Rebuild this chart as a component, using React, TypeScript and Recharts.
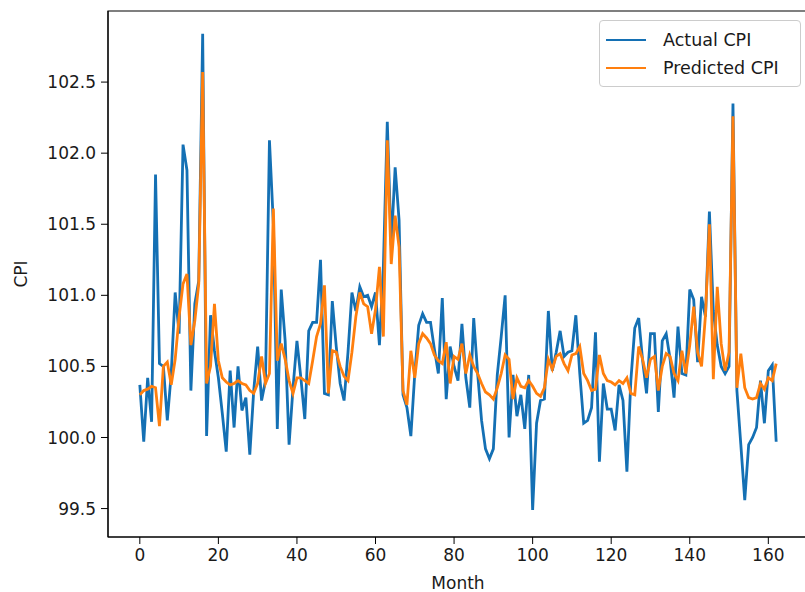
import { LineChart, Line, XAxis, YAxis, ReferenceArea, Label } from 'recharts'

// monthly CPI, actual vs model prediction
const actual = [
  100.37, 99.97, 100.42, 100.11, 101.85, 100.52, 100.5, 100.12, 100.45, 101.02,
  100.73, 102.06, 101.88, 100.33, 100.94, 101.1, 102.84, 100.01, 100.86, 100.61,
  100.42, 100.17, 99.9, 100.47, 100.07, 100.5, 100.19, 100.28, 99.88, 100.33,
  100.64, 100.26, 100.4, 102.09, 101.5, 100.06, 101.04, 100.68, 99.95, 100.35,
  100.68, 100.42, 100.13, 100.75, 100.81, 100.81, 101.25, 100.31, 100.3, 100.96,
  100.64, 100.38, 100.26, 100.6, 101.02, 100.89, 101.06, 100.99, 101.0, 100.92,
  101.02, 100.65, 101.2, 102.22, 101.35, 101.9, 101.53, 100.3, 100.21, 100.01,
  100.45, 100.79, 100.87, 100.81, 100.81, 100.62, 100.45, 100.98, 100.27, 100.64,
  100.5, 100.4, 100.8, 100.42, 100.21, 100.84, 100.45, 100.12, 99.92, 99.85,
  99.92, 100.44, 100.71, 101.0, 100.0, 100.44, 100.15, 100.3, 100.06, 100.44,
  99.49, 100.1, 100.26, 100.27, 100.89, 100.47, 100.6, 100.75, 100.57, 100.6,
  100.61, 100.86, 100.45, 100.1, 100.12, 100.21, 100.74, 99.83, 100.38, 100.2,
  100.2, 100.05, 100.37, 100.26, 99.76, 100.4, 100.77, 100.84, 100.54, 100.31,
  100.73, 100.73, 100.18, 100.68, 100.73, 100.55, 100.28, 100.78, 100.45, 100.44,
  101.04, 100.97, 100.53, 100.99, 100.85, 101.59, 100.89, 100.65, 100.5, 100.45,
  100.5, 102.35, 100.33, 99.95, 99.56, 99.95, 100.0, 100.07, 100.4, 100.1,
  100.47, 100.51, 99.97,
]

const predicted = [
  100.3, 100.33, 100.34, 100.36, 100.35, 100.08, 100.5, 100.53, 100.37, 100.55,
  100.85, 101.08, 101.15, 100.65, 100.82, 101.08, 102.57, 100.38, 100.5, 100.94,
  100.54, 100.42, 100.39, 100.37, 100.38, 100.4, 100.38, 100.37, 100.33, 100.31,
  100.38, 100.57, 100.38, 100.45, 101.61, 100.54, 100.66, 100.55, 100.4, 100.31,
  100.42, 100.42, 100.4, 100.38, 100.54, 100.71, 100.8, 101.07, 100.31, 100.61,
  100.6, 100.5, 100.43, 100.4, 100.6, 100.85, 101.02, 100.94, 100.92, 100.73,
  100.9, 101.2, 100.71, 102.09, 101.22, 101.56, 101.34, 100.33, 100.23, 100.61,
  100.42, 100.66, 100.73, 100.7, 100.66, 100.58, 100.54, 100.52, 100.67, 100.38,
  100.57, 100.55, 100.66, 100.45, 100.58, 100.5, 100.45, 100.38, 100.32, 100.3,
  100.27, 100.35, 100.45, 100.58, 100.55, 100.27, 100.42, 100.36, 100.35, 100.4,
  100.36, 100.31, 100.29, 100.35, 100.55, 100.48, 100.57, 100.59, 100.52, 100.47,
  100.58, 100.59, 100.64, 100.45, 100.4, 100.33, 100.34, 100.58, 100.45, 100.4,
  100.39, 100.37, 100.4, 100.38, 100.42, 100.31, 100.3, 100.64, 100.55, 100.42,
  100.55, 100.57, 100.33, 100.5, 100.59, 100.57, 100.45, 100.4, 100.61, 100.45,
  100.65, 100.92, 100.6, 100.5, 100.86, 101.5, 100.41, 101.06, 100.66, 100.47,
  100.6, 102.26, 100.35, 100.59, 100.35, 100.28, 100.27, 100.28, 100.38, 100.34,
  100.42, 100.4, 100.52,
]

// month index is just the position in the series
const months = actual.map((_, i) => i)

const xTicks = [0, 20, 40, 60, 80, 100, 120, 140, 160]
const yTicks = [99.5, 100.0, 100.5, 101.0, 101.5, 102.0, 102.5]

const X_DOMAIN: [number, number] = [-8.1, 170.1]
const Y_DOMAIN: [number, number] = [99.3, 103.0]

const FONT = '"DejaVu Sans", sans-serif'
const TEXT = '#1a1a1a'
const BLUE = '#1470b4'
const ORANGE = '#ff7f0e'

const series = [
  { key: 'actual', name: 'Actual CPI', color: BLUE },
  { key: 'predicted', name: 'Predicted CPI', color: ORANGE },
]

const data = months.map((m, i) => ({ month: m, actual: actual[i], predicted: predicted[i] }))

const YLabel = (props: any) => {
  const { viewBox } = props
  const cx = 21
  const cy = viewBox.y + viewBox.height / 2
  return (
    <text
      x={cx}
      y={cy}
      transform={`rotate(-90, ${cx}, ${cy})`}
      textAnchor="middle"
      dominantBaseline="central"
      fontFamily={FONT}
      fontSize={17}
      fill={TEXT}
    >
      CPI
    </text>
  )
}

// legend sits on top of the plot like matplotlib's "upper right" box
const LegendBox = () => (
  <div
    style={{
      position: 'absolute',
      left: 599,
      top: 20,
      boxSizing: 'border-box',
      width: 202,
      height: 67,
      border: '1px solid #cccccc',
      borderRadius: 4,
      background: 'rgba(255,255,255,0.85)',
      padding: '5px 0 0 6px',
      fontFamily: FONT,
      fontSize: 17.5,
      color: TEXT,
    }}
  >
    {series.map((s) => (
      <div key={s.key} style={{ display: 'flex', alignItems: 'center', height: 28 }}>
        <span style={{ display: 'inline-block', width: 40, height: 0, borderTop: `2.8px solid ${s.color}`, marginRight: 17 }} />
        <span>{s.name}</span>
      </div>
    ))}
  </div>
)

export default function App() {
  return (
    <div style={{ position: 'absolute', left: 0, top: 0, width: 805, height: 592, overflow: 'hidden', background: '#fff' }}>
      <LineChart width={808} height={592} data={data} margin={{ top: 11, right: 0, bottom: 0, left: 0 }}>
        <XAxis
          dataKey="month"
          type="number"
          domain={X_DOMAIN}
          ticks={xTicks}
          allowDataOverflow
          height={55}
          tickSize={7}
          tickMargin={5}
          stroke="#000"
          tick={{ fontFamily: FONT, fontSize: 17, fill: TEXT }}
        >
          <Label value="Month" position="insideBottom" offset={3} fontFamily={FONT} fontSize={17} fill={TEXT} />
        </XAxis>
        <YAxis
          type="number"
          domain={Y_DOMAIN}
          ticks={yTicks}
          allowDataOverflow
          width={108}
          tickSize={7}
          tickMargin={5}
          stroke="#000"
          tickFormatter={(v: number) => v.toFixed(1)}
          tick={{ fontFamily: FONT, fontSize: 17, fill: TEXT }}
        >
          <Label content={YLabel} />
        </YAxis>
        <ReferenceArea x1={X_DOMAIN[0]} x2={X_DOMAIN[1]} y1={Y_DOMAIN[0]} y2={Y_DOMAIN[1]} fill="none" stroke="#000" strokeWidth={1.2} />
        {series.map((s) => (
          <Line
            key={s.key}
            type="linear"
            dataKey={s.key}
            name={s.name}
            stroke={s.color}
            strokeWidth={2.8}
            dot={false}
            isAnimationActive={false}
          />
        ))}
      </LineChart>
      <LegendBox />
    </div>
  )
}
